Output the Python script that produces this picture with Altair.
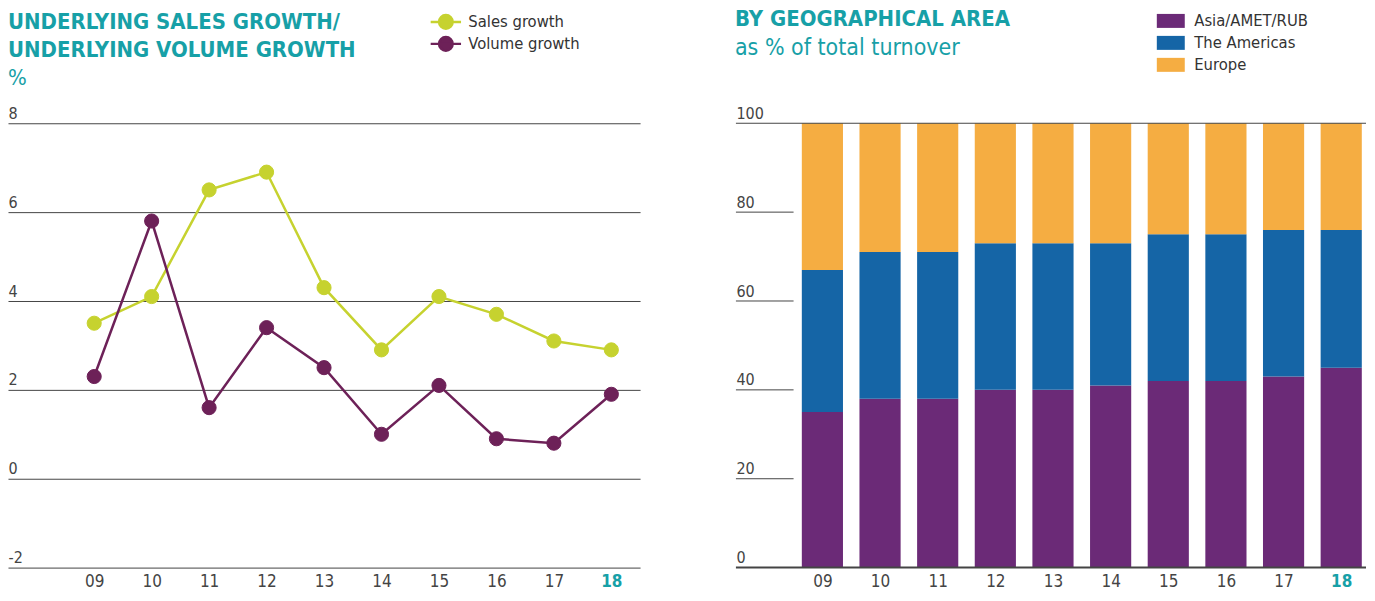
import altair as alt
import pandas as pd

# ---- data ----
years = [9, 10, 11, 12, 13, 14, 15, 16, 17, 18]
sales_growth = [3.5, 4.1, 6.5, 6.9, 4.3, 2.9, 4.1, 3.7, 3.1, 2.9]
volume_growth = [2.3, 5.8, 1.6, 3.4, 2.5, 1.0, 2.1, 0.9, 0.8, 1.9]
series_names = ["Sales growth", "Volume growth"]

regions = ["Asia/AMET/RUB", "The Americas", "Europe"]
asia = [35, 38, 38, 40, 40, 41, 42, 42, 43, 45]
americas = [32, 33, 33, 33, 33, 32, 33, 33, 33, 31]
europe = [33, 29, 29, 27, 27, 27, 25, 25, 24, 24]

left_ticks = [-2, 0, 2, 4, 6, 8]
right_ticks = [0, 20, 40, 60, 80, 100]

# ---- styles ----
FONT = "Liberation Sans Narrow, DejaVu Sans Condensed, sans-serif"
TEAL = "#17a0a7"
TXT = "#444444"
series_colors = ["#c6d22f", "#6d2158"]
region_colors = ["#6b2a77", "#1565a6", "#f5ad42"]

growth = pd.DataFrame({
    "year": years * 2,
    "value": sales_growth + volume_growth,
    "series": [series_names[0]] * len(years) + [series_names[1]] * len(years),
})

geo_rows = []
for ri, (r, vals) in enumerate(zip(regions, [asia, americas, europe])):
    for y, v in zip(years, vals):
        geo_rows.append({"year": y, "value": v, "region": r, "ord": ri})
geo = pd.DataFrame(geo_rows)
grid = pd.DataFrame({"v": right_ticks})

xscale_l = alt.Scale(domain=[7.5, 18.5], nice=False, zero=False)
xscale_r = alt.Scale(domain=[7.5, 18.43], nice=False, zero=False)


def xaxis():
    return alt.Axis(
        values=years,
        labelExpr="datum.value < 10 ? '0' + datum.value : '' + datum.value",
        labelColor={"expr": f"datum.value == 18 ? '{TEAL}' : '{TXT}'"},
        labelFontWeight={"expr": "datum.value == 18 ? 'bold' : 'normal'"},
        labelFontSize=17, labelFont=FONT, labelPadding=6, labelFlush=False,
        domain=False, ticks=False, grid=False, title=None,
    )


def yaxis(values, grid_on):
    return alt.Axis(
        values=values, grid=grid_on, gridColor="#444444", gridWidth=1, gridOpacity=1,
        domain=False, ticks=False, tickSize=0,
        labelExpr="'' + datum.value",
        labelAlign="left", labelBaseline="bottom", labelPadding=0, labelOffset=-2,
        labelFontSize=16, labelColor=TXT, labelFont=FONT, labelFlush=False,
        labelOverlap=False, title=None,
    )


LINEPT = "M-1.9,0L1.9,0M0.85,0A0.85,0.85,0,1,1,-0.85,0A0.85,0.85,0,1,1,0.85,0Z"
RECT = "M-1.4,-0.7L1.4,-0.7L1.4,0.7L-1.4,0.7Z"


def legend(symbol, size, xoff, yoff, loff, rowpad):
    return alt.Legend(
        orient="none", legendX=xoff, legendY=yoff, title=None,
        symbolType=symbol, symbolSize=size, symbolStrokeWidth=2.5, symbolOpacity=1,
        labelFont=FONT, labelFontSize=16.5, labelColor="#333333", labelOffset=loff,
        rowPadding=rowpad, padding=0,
    )


sscale = alt.Scale(domain=series_names, range=series_colors)
yscale_l = alt.Scale(domain=[-2, 8], nice=False, zero=False)
yscale_r = alt.Scale(domain=[0, 100], nice=False, zero=False)
LEG_L = legend(LINEPT, 256, 429, -111, 13, -3)

line = alt.Chart(growth).mark_line(strokeWidth=2.5).encode(
    x=alt.X("year:Q", scale=xscale_l, axis=xaxis()),
    y=alt.Y("value:Q", scale=yscale_l, axis=yaxis(left_ticks, True)),
    stroke=alt.Stroke("series:N", scale=sscale, legend=LEG_L),
)
pts = alt.Chart(growth).mark_point(filled=True, size=200, opacity=1, strokeWidth=1).encode(
    x=alt.X("year:Q", scale=xscale_l, axis=xaxis()),
    y=alt.Y("value:Q", scale=yscale_l, axis=yaxis(left_ticks, True)),
    fill=alt.Fill("series:N", scale=sscale, legend=LEG_L),
    stroke=alt.Stroke("series:N", scale=sscale, legend=LEG_L),
)

left = alt.layer(line, pts).properties(
    width=633, height=445,
    title=alt.TitleParams(
        text=["UNDERLYING SALES GROWTH/", "UNDERLYING VOLUME GROWTH"],
        subtitle=["%"], anchor="start", font=FONT, fontSize=22, fontWeight="bold",
        color=TEAL, lineHeight=28, subtitleFont=FONT, subtitleFontSize=22,
        subtitleColor=TEAL, subtitleLineHeight=28, subtitlePadding=6, offset=-78,
    ),
)

bars = alt.Chart(geo).transform_window(
    top="sum(value)", groupby=["year"], sort=[alt.SortField("ord")], frame=[None, 0]
).transform_calculate(
    bottom="datum.top - datum.value",
    x0="datum.year - 0.357", x1="datum.year + 0.357",
).mark_bar().encode(
    x=alt.X("x0:Q", scale=xscale_r, axis=xaxis()),
    x2="x1:Q",
    y=alt.Y("bottom:Q", scale=yscale_r, axis=yaxis(right_ticks, False)),
    y2="top:Q",
    color=alt.Color("region:N", scale=alt.Scale(domain=regions, range=region_colors),
                    legend=legend(RECT, 400, 424, -114, 12, 2)),
)

rules = alt.Chart(grid).transform_calculate(
    xa="7.5", xb="(datum.v == 0 || datum.v == 100) ? 18.43 : 8.5",
    w="datum.v == 0 ? 2 : 1",
).mark_rule(color="#444444").encode(
    x=alt.X("xa:Q", scale=xscale_r, axis=xaxis()),
    x2="xb:Q",
    y=alt.Y("v:Q", scale=yscale_r, axis=yaxis(right_ticks, False)),
    strokeWidth=alt.StrokeWidth("w:Q", scale=None, legend=None),
)

right = alt.layer(bars, rules).properties(
    width=631, height=445,
    title=alt.TitleParams(
        text=["BY GEOGRAPHICAL AREA"],
        subtitle=["as % of total turnover"], anchor="start", font=FONT, fontSize=22,
        fontWeight="bold", color=TEAL, lineHeight=28, subtitleFont=FONT,
        subtitleFontSize=23, subtitleColor=TEAL, subtitleLineHeight=28,
        subtitlePadding=6, offset=-52,
    ),
)

chart = alt.hconcat(left, right, spacing=95).resolve_scale(
    color="independent", fill="independent", stroke="independent"
).resolve_legend(
    color="independent", fill="independent", stroke="independent"
).configure(
    font=FONT, background="white", padding=0, view=alt.ViewConfig(stroke=None)
)

chart.save("out.html", embed_options={"renderer": "svg", "actions": False})
